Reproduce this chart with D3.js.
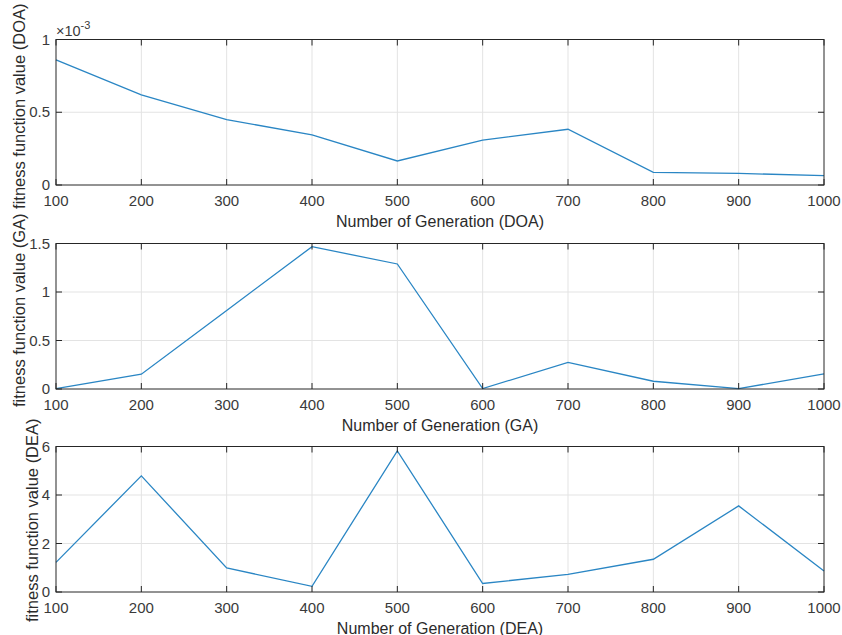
<!DOCTYPE html>
<html lang="en">

<head>
    <meta charset="UTF-8">
    <title>Fitness function value by generation</title>
    <script src="https://d3js.org/d3.v7.min.js"></script>
    <style>
        body {
            margin: 0;
            background: #ffffff;
        }

        svg {
            display: block;
            font-family: "Liberation Sans", Arial, sans-serif;
        }

        .tick-label {
            font-size: 15px;
            fill: #3a3a3a;
        }

        .axis-label {
            font-size: 16px;
            fill: #2b2b2b;
        }

        .y-label {
            font-size: 16.5px;
        }
    </style>
</head>

<body>
    <svg class="chart" width="842" height="635"></svg>

    <script>
        // generations on the x axis
        const generations = [100, 200, 300, 400, 500, 600, 700, 800, 900, 1000];

        // fitness values
        const doaFitness = [0.00086, 0.00062, 0.00045, 0.000344, 0.000165, 0.000309, 0.000383, 0.000087, 0.00008, 0.000064];
        const gaFitness = [0.004, 0.152, 0.81, 1.467, 1.289, 0.004, 0.275, 0.08, 0.004, 0.155];
        const deaFitness = [1.22, 4.79, 0.99, 0.236, 5.82, 0.35, 0.73, 1.35, 3.55, 0.87];

        // y tick values (in displayed units)
        const doaTicks = [0, 0.5, 1];
        const gaTicks = [0, 0.5, 1, 1.5];
        const deaTicks = [0, 2, 4, 6];

        const panels = [
            { name: "DOA", values: doaFitness, ticks: doaTicks, max: 1, scaleExp: -3, top: 39.5, labelShift: -6 },
            { name: "GA", values: gaFitness, ticks: gaTicks, max: 1.5, scaleExp: 0, top: 243.5, labelShift: -6 },
            { name: "DEA", values: deaFitness, ticks: deaTicks, max: 6, scaleExp: 0, top: 446.5, labelShift: 1 }
        ];

        const left = 56, right = 824, plotH = 145.5;
        const lineColor = "#2a86c4";
        const boxColor = "#262626";
        const gridColor = "#e3e3e3";

        const svg = d3.select(".chart");

        const x = d3.scaleLinear()
            .domain([100, 1000])
            .range([left, right]);

        panels.forEach(function (p) {
            const bottom = p.top + plotH;
            const factor = Math.pow(10, -p.scaleExp);
            const y = d3.scaleLinear()
                .domain([0, p.max])
                .range([bottom, p.top]);

            const g = svg.append("g");

            // grid
            g.selectAll(".vgrid")
                .data(generations.slice(1, -1))
                .enter()
                .append("line")
                .attr("x1", d => x(d)).attr("x2", d => x(d))
                .attr("y1", p.top).attr("y2", bottom)
                .attr("stroke", gridColor)
                .attr("stroke-width", 1);

            g.selectAll(".hgrid")
                .data(p.ticks.slice(1, -1))
                .enter()
                .append("line")
                .attr("x1", left).attr("x2", right)
                .attr("y1", d => y(d)).attr("y2", d => y(d))
                .attr("stroke", gridColor)
                .attr("stroke-width", 1);

            // data line
            const line = d3.line()
                .x((d, i) => x(generations[i]))
                .y(d => y(d * factor));

            g.append("path")
                .datum(p.values)
                .attr("d", line)
                .attr("fill", "none")
                .attr("stroke", lineColor)
                .attr("stroke-width", 1.3);

            // box
            g.append("rect")
                .attr("x", left).attr("y", p.top)
                .attr("width", right - left).attr("height", plotH)
                .attr("fill", "none")
                .attr("stroke", boxColor)
                .attr("stroke-width", 1);

            // inward ticks (x: bottom and top, y: left and right)
            const xt = g.append("g");
            generations.forEach(function (v) {
                xt.append("line")
                    .attr("x1", x(v)).attr("x2", x(v))
                    .attr("y1", bottom).attr("y2", bottom - 6)
                    .attr("stroke", boxColor);
                xt.append("line")
                    .attr("x1", x(v)).attr("x2", x(v))
                    .attr("y1", p.top).attr("y2", p.top + 6)
                    .attr("stroke", boxColor);
            });
            p.ticks.forEach(function (v) {
                xt.append("line")
                    .attr("x1", left).attr("x2", left + 6)
                    .attr("y1", y(v)).attr("y2", y(v))
                    .attr("stroke", boxColor);
                xt.append("line")
                    .attr("x1", right).attr("x2", right - 6)
                    .attr("y1", y(v)).attr("y2", y(v))
                    .attr("stroke", boxColor);
            });

            // x tick labels
            g.selectAll(".xlab")
                .data(generations)
                .enter()
                .append("text")
                .attr("class", "tick-label")
                .attr("x", d => x(d))
                .attr("y", bottom + 21)
                .attr("text-anchor", "middle")
                .text(d => d);

            // y tick labels
            const ylabs = g.selectAll(".ylab")
                .data(p.ticks)
                .enter()
                .append("text")
                .attr("class", "tick-label")
                .attr("x", left - 6)
                .attr("y", d => y(d) + 5)
                .attr("text-anchor", "end")
                .text(d => d);

            let widest = 0;
            ylabs.each(function () {
                widest = Math.max(widest, this.getComputedTextLength());
            });

            // axis labels
            g.append("text")
                .attr("class", "axis-label")
                .attr("x", (left + right) / 2)
                .attr("y", bottom + 41.5)
                .attr("text-anchor", "middle")
                .text(`Number of Generation (${p.name})`);

            const lx = left - 6 - widest - 4;
            const ly = (p.top + bottom) / 2 + p.labelShift;
            g.append("text")
                .attr("class", "axis-label y-label")
                .attr("transform", `translate(${lx},${ly}) rotate(-90)`)
                .attr("text-anchor", "middle")
                .text(`fitness function value (${p.name})`);

            // exponent label
            if (p.scaleExp !== 0) {
                const ex = g.append("text")
                    .attr("x", left)
                    .attr("y", p.top - 4)
                    .attr("fill", "#3a3a3a")
                    .style("font-size", "14.5px");
                ex.append("tspan").text("\u00d710");
                ex.append("tspan")
                    .attr("dy", -7)
                    .style("font-size", "11px")
                    .text(p.scaleExp);
            }
        });
    </script>
</body>

</html>
